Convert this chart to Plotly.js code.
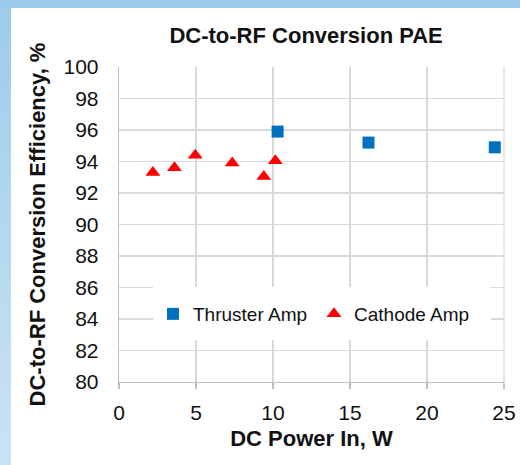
<!DOCTYPE html>
<html>
<head>
<meta charset="utf-8">
<script src="https://cdn.plot.ly/plotly-3.0.1.min.js"></script>
<style>
  html, body { margin: 0; padding: 0; }
  body { width: 520px; height: 465px; overflow: hidden;
         background: linear-gradient(to bottom, #9ccbea 0%, #b4d8f0 50%, #c9e3f5 100%); position: relative; }
  #chart { position: absolute; left: 11px; top: 8px; width: 509px; height: 457px; }
</style>
</head>
<body>
<div id="chart"></div>
<script>
// Thruster Amp series
const thrusterPower = [10.3, 16.2, 24.4];
const thrusterEff = [95.9, 95.2, 94.9];
// Cathode Amp series
const cathodePower = [2.2, 3.6, 4.95, 7.35, 9.4, 10.15];
const cathodeEff = [93.3, 93.6, 94.4, 93.9, 93.05, 94.05];
// Axis ticks
const xTicks = [0, 5, 10, 15, 20, 25];
const yTicks = [80, 82, 84, 86, 88, 90, 92, 94, 96, 98, 100];

const font = "'Liberation Sans', Arial, sans-serif";

const traces = [
  { type: 'scatter', mode: 'markers', name: 'Thruster Amp',
    x: thrusterPower, y: thrusterEff,
    marker: { symbol: 'square', size: 12, color: '#0070C0' } },
  { type: 'scatter', mode: 'markers', name: 'Cathode Amp',
    x: cathodePower, y: cathodeEff,
    marker: { symbol: 'triangle-up', size: 13, color: '#FF0000' } }
];

const layout = {
  width: 509, height: 457,
  margin: { l: 108, r: 16, t: 59, b: 83, pad: 0 },
  paper_bgcolor: '#ffffff', plot_bgcolor: '#ffffff',
  font: { family: font, color: '#111111', size: 21 },
  showlegend: true,
  title: { text: '<b>DC-to-RF Conversion PAE</b>', font: { size: 22, family: font, color: '#111' },
           xref: 'paper', x: 0.486, xanchor: 'center', yref: 'container', y: 1 - 27/457, yanchor: 'middle' },
  xaxis: {
    range: [0, 25], tickvals: xTicks, ticktext: xTicks.map(String),
    showgrid: true, gridcolor: '#d9d9d9', gridwidth: 1.2,
    showline: true, linecolor: '#bfbfbf', linewidth: 1.3, mirror: false,
    ticks: 'outside', ticklen: 6, tickcolor: '#bfbfbf', tickwidth: 1.3,
    ticklabelstandoff: 5,
    zeroline: false, tickfont: { size: 21 },
    title: { text: '<b>DC Power In, W</b>', font: { size: 22 }, standoff: 8 }
  },
  yaxis: {
    range: [80, 100], tickvals: yTicks, ticktext: yTicks.map(String),
    showgrid: true, gridcolor: '#d9d9d9', gridwidth: 1.2,
    showline: true, linecolor: '#bfbfbf', linewidth: 1.3,
    ticks: '', ticklabelstandoff: 15,
    zeroline: false, tickfont: { size: 21 },
    title: { text: '<b>DC-to-RF Conversion Efficiency, %</b>', font: { size: 22 }, standoff: 11 }
  },
  shapes: [
    { type: 'rect', xref: 'paper', yref: 'paper', x0: 1, x1: 1, y0: 0, y1: 1,
      line: { color: '#d9d9d9', width: 1.2 } },
    { type: 'rect', xref: 'paper', yref: 'paper', layer: 'above',
      x0: (153 - 119) / 385, x1: (491 - 119) / 385, y0: (382 - 340) / 315, y1: (382 - 287) / 315,
      fillcolor: '#ffffff', line: { width: 0 } }
  ],
  legend: {
    orientation: 'h', x: (173 - 119 - 20) / 385, xanchor: 'left',
    y: (382 - 314) / 315, yanchor: 'middle',
    bgcolor: 'rgba(0,0,0,0)', borderwidth: 0,
    font: { size: 19 }, entrywidth: 116, entrywidthmode: 'pixels', itemwidth: 30
  }
};

Plotly.newPlot('chart', traces, layout, { displayModeBar: false, staticPlot: true });
</script>
</body>
</html>
